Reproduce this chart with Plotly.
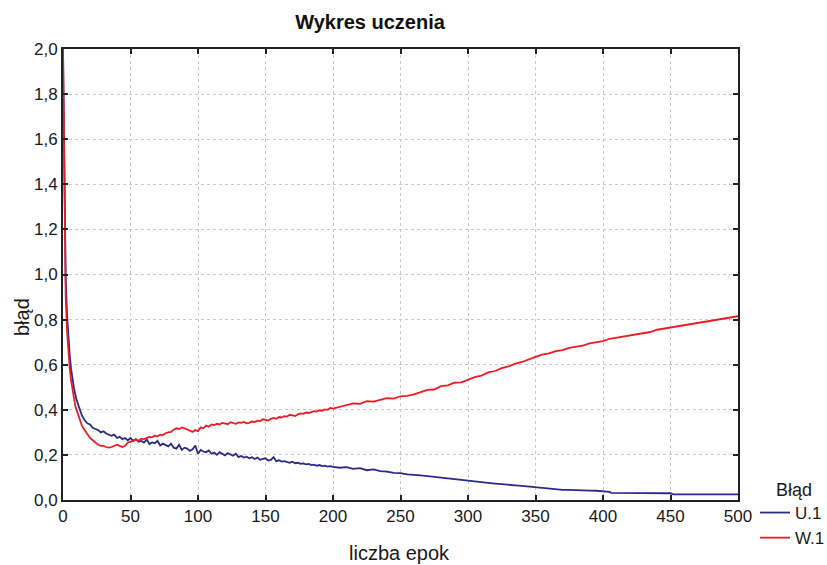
import plotly.graph_objects as go

u_epochs = [0,1,2,3,4,5,6,7,8,9,10,12,14,16,18,20,22,24,26,28,30,32,34,36,38,40,42,44,46,48,
            50,52,54,56,58,60,62,64,66,68,70,72,74,76,78,80,82,84,86,88,90,92,94,96,98,
            100,102,104,106,108,110,112,114,116,118,120,122,124,126,128,130,132,134,136,138,
            140,142,144,146,148,150,152,154,156,158,160,162,164,166,168,170,172,174,176,178,
            180,182,184,186,188,190,192,194,196,198,200,205,210,215,220,225,230,235,240,245,
            250,255,260,265,270,275,280,285,290,295,300,305,310,315,320,325,330,335,340,345,
            350,355,360,365,370,375,380,385,390,395,400,405,406,410,420,430,440,450,452,460,480,500]
u_values = [2.00,1.35,0.98,0.82,0.72,0.64,0.58,0.53,0.50,0.47,0.445,0.41,0.375,0.355,0.34,0.335,0.32,0.315,0.31,0.30,
            0.305,0.295,0.29,0.285,0.29,0.275,0.28,0.27,0.275,0.265,
            0.275,0.262,0.27,0.258,0.262,0.255,0.268,0.248,0.255,0.252,0.262,0.242,0.25,0.245,0.238,0.25,0.232,0.228,0.245,0.222,
            0.232,0.228,0.218,0.225,0.242,
            0.205,0.222,0.215,0.212,0.22,0.205,0.21,0.20,0.212,0.205,0.198,0.208,0.20,0.196,0.205,0.19,0.195,0.188,0.192,0.185,
            0.19,0.182,0.188,0.178,0.182,0.185,0.175,0.178,0.19,0.172,0.176,0.17,0.172,0.168,0.165,0.17,0.163,0.165,0.16,0.162,
            0.158,0.16,0.155,0.157,0.152,0.155,0.15,0.152,0.148,0.15,0.147,0.143,0.146,0.138,0.141,0.132,0.136,0.128,0.126,0.12,
            0.119,0.114,0.113,0.109,0.106,0.102,0.099,0.096,0.093,0.089,0.086,0.082,0.081,0.077,0.073,0.07,0.069,0.065,0.063,0.06,
            0.058,0.055,0.05,0.048,0.045,0.045,0.043,0.042,0.042,0.041,0.040,0.036,0.032,0.032,0.032,0.031,0.031,0.030,0.025,0.025,0.025,0.025]

w_epochs = [0,1,2,3,4,5,6,7,8,9,10,12,14,16,18,20,22,24,26,28,30,32,34,36,38,40,42,44,46,48,
            50,52,54,56,58,60,62,64,66,68,70,72,74,76,78,80,82,84,86,88,90,92,94,96,98,
            100,102,104,106,108,110,112,114,116,118,120,122,124,126,128,130,132,134,136,138,
            140,142,144,146,148,150,152,154,156,158,160,162,164,166,168,170,172,174,176,178,
            180,182,184,186,188,190,192,194,196,198,200,205,210,215,220,225,230,235,240,245,
            250,255,260,265,270,275,280,285,290,295,300,305,310,315,320,325,330,335,340,345,
            350,355,360,365,370,375,380,385,390,395,400,405,410,415,420,425,430,435,440,445,
            450,455,460,465,470,475,480,485,490,495,500]
w_values = [2.00,1.25,0.90,0.75,0.65,0.58,0.53,0.49,0.45,0.42,0.40,0.36,0.33,0.31,0.29,0.275,0.265,0.255,0.245,0.24,
            0.24,0.235,0.232,0.235,0.24,0.245,0.24,0.235,0.24,0.255,
            0.258,0.262,0.268,0.262,0.272,0.27,0.276,0.28,0.278,0.285,0.282,0.29,0.288,0.296,0.30,0.302,0.312,0.318,0.315,0.322,
            0.318,0.312,0.308,0.302,0.31,
            0.305,0.322,0.318,0.33,0.325,0.335,0.332,0.338,0.335,0.342,0.34,0.336,0.345,0.34,0.338,0.344,0.342,0.346,0.34,0.342,
            0.348,0.346,0.352,0.35,0.358,0.355,0.352,0.36,0.364,0.36,0.368,0.366,0.372,0.37,0.378,0.375,0.372,0.38,0.384,0.382,
            0.388,0.386,0.39,0.394,0.392,0.398,0.396,0.402,0.40,0.408,0.405,0.412,0.418,0.428,0.426,0.438,0.436,0.445,0.452,0.45,
            0.46,0.462,0.468,0.478,0.488,0.49,0.505,0.508,0.52,0.522,0.535,0.545,0.552,0.566,0.572,0.585,0.592,0.605,0.612,0.625,
            0.635,0.645,0.65,0.66,0.665,0.675,0.68,0.685,0.695,0.70,0.705,0.715,0.72,0.725,0.73,0.735,0.74,0.745,0.755,0.76,
            0.765,0.77,0.775,0.78,0.785,0.79,0.795,0.80,0.805,0.81,0.815]

assert len(u_epochs) == len(u_values) and len(w_epochs) == len(w_values)

x_ticks = [0, 50, 100, 150, 200, 250, 300, 350, 400, 450, 500]
y_ticks = [0.0, 0.2, 0.4, 0.6, 0.8, 1.0, 1.2, 1.4, 1.6, 1.8, 2.0]

FONT = "Liberation Sans, Arial, sans-serif"
W, H = 827, 565
L, R, T, B = 63, 89, 49, 65
PW, PH = W - L - R, H - T - B


def px_x(px):
    return (px - L) / PW


def px_y(py):
    return (H - B - py) / PH


fig = go.Figure()
fig.add_trace(go.Scatter(x=u_epochs, y=u_values, mode="lines", name="U.1",
                         line=dict(color="#2a2a8c", width=1.8)))
fig.add_trace(go.Scatter(x=w_epochs, y=w_values, mode="lines", name="W.1",
                         line=dict(color="#ed1c24", width=1.8)))

axis_common = dict(showline=True, linecolor="#222222", linewidth=2, mirror="ticks",
                   ticks="inside", ticklen=5, tickwidth=1.5, tickcolor="#222222",
                   showgrid=True, gridcolor="#c8c8c8", griddash="dot", gridwidth=1,
                   zeroline=False, tickfont=dict(family=FONT, size=17, color="#1a1a1a"))

fig.update_xaxes(range=[0, 500], tickvals=x_ticks, **axis_common)
fig.update_yaxes(range=[0, 2], tickvals=y_ticks, tickformat=".1f", **axis_common)

fig.update_layout(
    width=W, height=H,
    margin=dict(l=L, r=R, t=T, b=B, autoexpand=False),
    plot_bgcolor="white", paper_bgcolor="white",
    separators=", ",
    font=dict(family=FONT, size=17, color="#1a1a1a"),
    title=dict(text="<b>Wykres uczenia</b>", x=370 / W, xref="container", xanchor="center",
               y=1 - 22 / H, yref="container", yanchor="middle",
               font=dict(family=FONT, size=20, color="#111111")),
    showlegend=True,
    legend=dict(xref="container", yref="container", x=755 / W, y=1 - 495 / H,
                xanchor="left", yanchor="top", bgcolor="rgba(0,0,0,0)",
                font=dict(family=FONT, size=17, color="#1a1a1a"),
                itemwidth=30, tracegroupgap=0),
    annotations=[
        dict(text="liczba epok", xref="paper", yref="paper", x=px_x(399), y=px_y(553),
             showarrow=False, xanchor="center", yanchor="middle",
             font=dict(family=FONT, size=20, color="#1a1a1a")),
        dict(text="błąd", xref="paper", yref="paper", x=px_x(22), y=px_y(317),
             showarrow=False, textangle=-90, xanchor="center", yanchor="middle",
             font=dict(family=FONT, size=20, color="#1a1a1a")),
        dict(text="Błąd", xref="paper", yref="paper", x=px_x(774), y=px_y(490),
             showarrow=False, xanchor="left", yanchor="middle",
             font=dict(family=FONT, size=18, color="#1a1a1a")),
    ],
)

fig.write_html("out.html")
